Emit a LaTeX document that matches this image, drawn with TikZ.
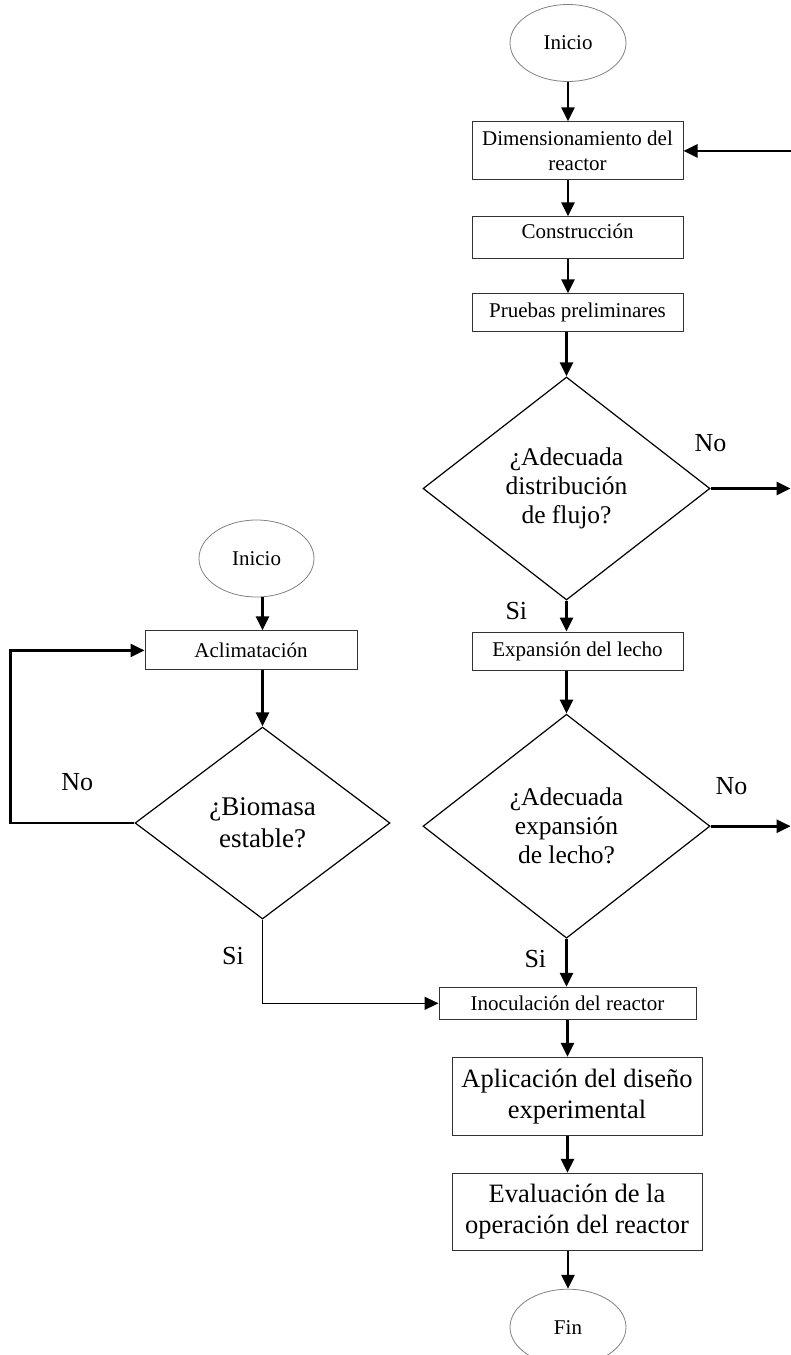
\documentclass[tikz,border=0pt]{standalone}
\usepackage{fontspec}
\setmainfont{Liberation Serif}
\usepackage{tikz}
\usetikzlibrary{positioning,arrows.meta,shapes.geometric}
\usepackage{xcolor}

\begin{document}
\begin{tikzpicture}[
    x=1pt, y=1pt,
    term/.style={ellipse, draw=gray, line width=0.8pt, minimum width=116pt, minimum height=77pt, inner sep=0pt, font=\fontsize{21}{25}\selectfont},
    box/.style={draw=black!80, line width=1pt, align=center, minimum width=211pt, minimum height=38pt, inner sep=0pt, font=\fontsize{21}{25}\selectfont},
    bigbox/.style={box, minimum width=250pt, minimum height=77pt, font=\fontsize{26.5}{31}\selectfont},
    decision/.style={diamond, draw, line width=1.2pt, align=center, inner sep=0pt, font=\fontsize{25.5}{29}\selectfont},
    lbl/.style={inner sep=0pt, font=\fontsize{26}{30}\selectfont},
    line/.style={-{Triangle[length=14pt,width=13pt]}, line width=2.6pt},
    thinline/.style={line, line width=1.5pt}
]
\useasboundingbox (0,0) rectangle (791,-1355);

% right column
\node[term] (start) at (568,-43) {Inicio};
\node[box, minimum height=58pt, below=39.5pt of start, xshift=9.5pt] (dim) {Dimensionamiento del\\reactor};
\node[box, minimum height=42pt, text depth=14pt, below=36pt of dim] (cons) {Construcción};
\node[box, below=34pt of cons] (prue) {Pruebas preliminares};
\node[decision, minimum width=287pt, minimum height=223pt, below=44pt of prue, xshift=-11pt] (flujo) {¿Adecuada\\distribución\\de flujo?};
\node[box, below=31pt of flujo, xshift=11pt] (exp) {Expansión del lecho};
\node[decision, minimum width=287pt, minimum height=224pt, below=43pt of exp, xshift=-11pt] (lecho) {¿Adecuada\\expansión\\de lecho?};
\node[box, minimum width=257pt, minimum height=32pt, below=48pt of lecho, xshift=1pt] (inoc) {Inoculación del reactor};
\node[bigbox, minimum height=78pt, below=37pt of inoc, xshift=9.5pt] (apl) {Aplicación del diseño\\experimental};
\node[bigbox, below=37pt of apl] (eval) {Evaluación de la\\operación del reactor};
\node[term, minimum height=76pt, below=38pt of eval, xshift=-9pt] (fin) {Fin};

% left column
\node[term, minimum width=115pt] (start2) at (256.5,-558.5) {Inicio};
\node[box, minimum width=212pt, minimum height=39pt, below=33pt of start2, xshift=-5.5pt] (acl) {Aclimatación};
\node[decision, minimum width=255pt, minimum height=192pt, below=56pt of acl, xshift=11.5pt, font=\fontsize{27}{32}\selectfont] (bio) {¿Biomasa\\estable?};

\coordinate[right=107pt of dim.east] (ret);
\coordinate[right=80pt of flujo.east] (noA);
\coordinate[right=80pt of lecho.east] (noB);
\coordinate[left=124pt of bio.west] (loop);

\draw[line] (start) -- (start |- dim.north);
\draw[line] (dim.south -| start) -- (cons.north -| start);
\draw[line] (cons.south -| start) -- (prue.north -| start);
\draw[line] (prue.south -| flujo) -- (flujo.north);
\draw[line] (flujo.east) -- node[lbl, pos=0, above=35pt] {No} (noA);
\draw[line] (ret) -- (dim.east);
\draw[line] (flujo.south) -- node[lbl, pos=.35, left=38pt] {Si} (flujo.south |- exp.north);
\draw[line] (exp.south -| lecho) -- (lecho.north);
\draw[line] (lecho.east) -- node[lbl, pos=.26, above=30pt] {No} (noB);
\draw[line] (lecho.south) -- node[lbl, pos=.42, left=19pt] {Si} (lecho.south |- inoc.north);
\draw[line] (inoc.south) -- (inoc.south |- apl.north);
\draw[line] (apl.south -| inoc) -- (eval.north -| inoc);
\draw[line] (eval.south -| fin) -- (fin);

\draw[line] (start2.south -| bio) -- (acl.north -| bio);
\draw[line] (acl.south -| bio) -- (bio.north);
\draw[line] (bio.west) -- node[lbl, pos=.46, above=31pt] {No} (loop) |- (acl.west);
\draw[thinline] (bio.south) |- node[lbl, pos=.22, left=18pt] {Si} (inoc.west);
\end{tikzpicture}
\end{document}
